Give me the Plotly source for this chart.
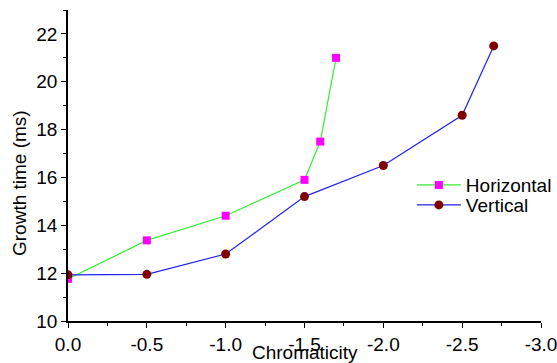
import plotly.graph_objects as go

h_x = [0.0, -0.5, -1.0, -1.5, -1.6, -1.7]
h_y = [11.76, 13.37, 14.4, 15.9, 17.5, 21.0]
v_x = [0.0, -0.5, -1.0, -1.5, -2.0, -2.5, -2.7]
v_y = [11.93, 11.95, 12.8, 15.2, 16.5, 18.6, 21.5]

x_ticks = [0.0, -0.5, -1.0, -1.5, -2.0, -2.5, -3.0]
x_labels = ["0.0", "-0.5", "-1.0", "-1.5", "-2.0", "-2.5", "-3.0"]
y_ticks = [10, 12, 14, 16, 18, 20, 22]
y_labels = ["10", "12", "14", "16", "18", "20", "22"]

FONT = "Liberation Sans, Arial, sans-serif"
FS = 19

fig = go.Figure()
fig.add_trace(go.Scatter(x=h_x, y=h_y, mode="lines+markers", name="Horizontal",
                         line=dict(color="#33ee33", width=1.2),
                         marker=dict(symbol="square", size=8, color="#ff00ff"),
                         legend="legend"))
fig.add_trace(go.Scatter(x=v_x, y=v_y, mode="lines+markers", name="Vertical",
                         line=dict(color="#2222ee", width=1.2),
                         marker=dict(symbol="circle", size=9, color="#800000"),
                         legend="legend2"))

axis_common = dict(showgrid=False, zeroline=False, showline=True, linecolor="black",
                   linewidth=1.5, ticks="outside", ticklen=5, tickwidth=1.2,
                   tickcolor="black", tickfont=dict(family=FONT, size=FS, color="black"),
                   mirror=False, automargin=False, ticklabeloverflow="allow")

fig.update_xaxes(range=[0, -3.0], tickvals=x_ticks, ticktext=x_labels,
                 minor=dict(dtick=0.25, ticks="outside", ticklen=3, tickcolor="black", tickwidth=1),
                 **axis_common)
fig.update_yaxes(range=[10, 23], tickvals=y_ticks, ticktext=y_labels,
                 minor=dict(dtick=1, ticks="outside", ticklen=3, tickcolor="black", tickwidth=1),
                 **axis_common)

fig.add_annotation(text="Chromaticity", xref="paper", yref="paper", x=0.501, y=-0.0997,
                   xanchor="center", yanchor="middle", showarrow=False,
                   font=dict(family=FONT, size=FS, color="black"))
fig.add_annotation(text="Growth time (ms)", xref="paper", yref="paper", x=-0.1036, y=0.4437,
                   xanchor="center", yanchor="middle", showarrow=False, textangle=-90,
                   font=dict(family=FONT, size=FS, color="black"))

leg_common = dict(xanchor="left", yanchor="top", bgcolor="rgba(0,0,0,0)",
                  font=dict(family=FONT, size=FS, color="black"), itemwidth=44)

fig.update_layout(
    width=557, height=363,
    margin=dict(l=68, r=16, t=10, b=42, autoexpand=False),
    paper_bgcolor="white", plot_bgcolor="white",
    font=dict(family=FONT, size=FS, color="black"),
    legend=dict(x=0.727, y=0.498, **leg_common),
    legend2=dict(x=0.727, y=0.434, **leg_common),
    showlegend=True,
)

fig.write_html(
    "out.html",
    config={"displayModeBar": False},
    post_script="document.body.style.margin='0';document.documentElement.style.overflow='hidden';document.body.style.overflow='hidden';",
)
